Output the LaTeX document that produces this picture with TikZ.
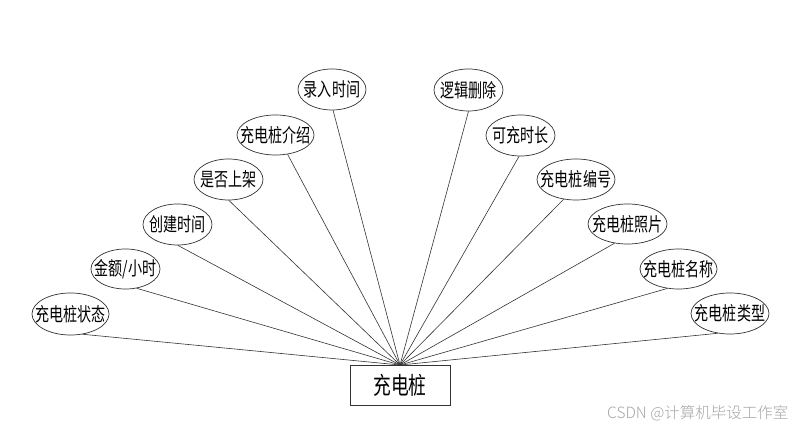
\documentclass[tikz,border=0pt]{standalone}
\usepackage{fontspec}
\setmainfont{Noto Sans CJK SC}[FakeStretch=0.74]
\newfontfamily\wmfont{Noto Sans CJK SC Light}
\usetikzlibrary{shapes.geometric}
\tikzset{
  attr/.style={ellipse, draw=black!80, line width=0.7pt, inner sep=0pt,
    label={[font=\fontsize{19}{19}\selectfont, inner sep=0pt]center:#1}},
  ent/.style={rectangle, draw=black!80, line width=0.7pt, minimum width=100pt, minimum height=40pt,
    inner sep=0pt, font=\fontsize{24}{24}\selectfont},
  link/.style={draw=black!80, line width=0.6pt}
}
\begin{document}
\begin{tikzpicture}[x=1pt,y=-1pt]
\useasboundingbox[fill=white] (0,0) rectangle (800,430);
\node[ent] (e) at (400,385) {充电桩};
\coordinate (hub) at (400,365);
% left
\node[attr=录入时间, minimum width=68pt, minimum height=41pt] (a1) at (332,89.5) {};
\node[attr=充电桩介绍, minimum width=77pt, minimum height=40pt] (a2) at (275.5,135) {};
\node[attr=是否上架, minimum width=69pt, minimum height=41pt] (a3) at (228.5,179.5) {};
\node[attr=创建时间, minimum width=69pt, minimum height=41pt] (a4) at (177.5,224.5) {};
\node[attr=金额/小时, minimum width=69pt, minimum height=40pt] (a5) at (125.5,269) {};
\node[attr=充电桩状态, minimum width=77pt, minimum height=42pt] (a6) at (70.5,314) {};
% right
\node[attr=逻辑删除, minimum width=69pt, minimum height=42pt] (b1) at (468.5,90) {};
\node[attr=可充时长, minimum width=69pt, minimum height=41pt] (b2) at (520.5,135.5) {};
\node[attr=充电桩编号, minimum width=78pt, minimum height=41pt] (b3) at (576,179.5) {};
\node[attr=充电桩照片, minimum width=79pt, minimum height=40pt] (b4) at (627.5,224) {};
\node[attr=充电桩名称, minimum width=77pt, minimum height=40pt] (b5) at (678.5,269) {};
\node[attr=充电桩类型, minimum width=78pt, minimum height=41pt] (b6) at (730,313.5) {};
% connectors
\draw[link] (a1.-87) -- (hub);
\draw[link] (a2.-58) -- (hub);
\draw[link] (a3.-89) -- (hub);
\draw[link] (a4.-89) -- (hub);
\draw[link] (a5.-60) -- (hub);
\draw[link] (a6.-59) -- (hub);
\draw[link] (b1.-90) -- (hub);
\draw[link] (b2.-94) -- (hub);
\draw[link] (b3.-122) -- (hub);
\draw[link] (b4.-124) -- (hub);
\draw[link] (b5.-120) -- (hub);
\draw[link] (b6.-122) -- (hub);
% watermark
\node[anchor=west, inner sep=0pt, text=black!35, font=\wmfont\fontsize{15.5}{15.5}\selectfont] (wm) at (607,413) {CSDN @计算机毕设工作室};
\end{tikzpicture}
\end{document}
